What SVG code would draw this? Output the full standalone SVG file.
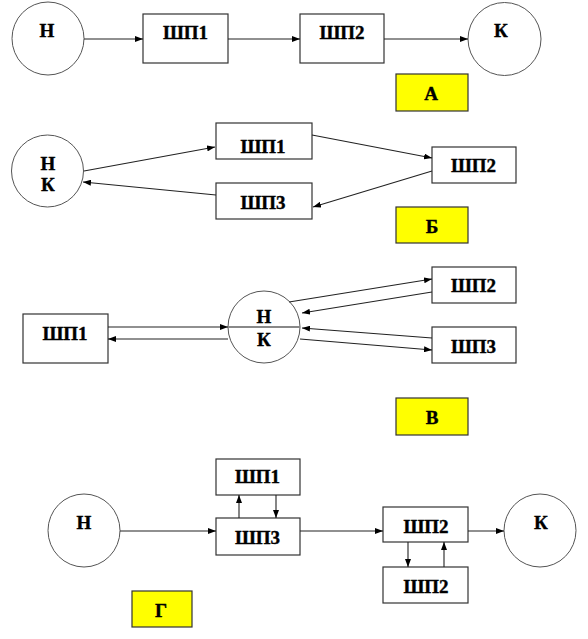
<svg xmlns="http://www.w3.org/2000/svg" width="588" height="639" viewBox="0 0 588 639">
<style>
.box{fill:#fff;stroke:#333;stroke-width:1.2}
.lbl{fill:#ff0;stroke:#333;stroke-width:1.2}
.circ{fill:#fff;stroke:#555;stroke-width:1}
.t{font-family:"Liberation Serif","Times New Roman",serif;font-weight:bold;font-size:19px;fill:#000;stroke:#000;stroke-width:0.4;text-anchor:middle}
.c line{stroke:#222;stroke-width:1.1;marker-end:url(#ah)}
</style>
<defs>
<marker id="ah" markerUnits="userSpaceOnUse" markerWidth="8" markerHeight="6" refX="8" refY="3" orient="auto">
<path d="M0,0 L8,3 L0,6 z" fill="#000"/>
</marker>
</defs>
<rect width="588" height="639" fill="#fff"/>

<!-- A -->
<g id="a-n"><ellipse class="circ" cx="48" cy="38.5" rx="36" ry="36.5"/><text class="t" x="47" y="36.5">Н</text></g>
<g id="a-sp1"><rect class="box" x="143" y="14" width="85" height="49"/><text class="t" x="185.5" y="39.3">ШП1</text></g>
<g id="a-sp2"><rect class="box" x="300" y="14" width="84" height="49"/><text class="t" x="342" y="39.3">ШП2</text></g>
<g id="a-k"><ellipse class="circ" cx="504.5" cy="39" rx="36.5" ry="36.5"/><text class="t" x="501" y="36.5">К</text></g>
<g id="a-label"><rect class="lbl" x="396" y="74" width="72" height="37"/><text class="t" x="431" y="99.5">А</text></g>

<!-- Б -->
<g id="b-nk"><ellipse class="circ" cx="47.5" cy="171" rx="36" ry="36"/><text class="t" x="48" y="169.5">Н</text><text class="t" x="48" y="190.5">К</text></g>
<g id="b-sp1"><rect class="box" x="216" y="123" width="96" height="36"/><text class="t" x="263" y="153">ШП1</text></g>
<g id="b-sp2"><rect class="box" x="432" y="147" width="84" height="36"/><text class="t" x="473.5" y="171.5">ШП2</text></g>
<g id="b-sp3"><rect class="box" x="216" y="183" width="96" height="36"/><text class="t" x="263" y="209.3">ШП3</text></g>
<g id="b-label"><rect class="lbl" x="396" y="207" width="72" height="36"/><text class="t" x="432" y="232.5">Б</text></g>

<!-- В -->
<g id="v-sp1"><rect class="box" x="23" y="314" width="85" height="49"/><text class="t" x="65" y="340">ШП1</text></g>
<g id="v-nk"><ellipse class="circ" cx="264" cy="327" rx="36" ry="36"/><line x1="228" y1="327" x2="300" y2="327" stroke="#888" stroke-width="2"/><text class="t" x="264" y="322.7">Н</text><text class="t" x="264" y="346">К</text></g>
<g id="v-sp2"><rect class="box" x="432" y="267" width="84" height="36"/><text class="t" x="473.5" y="291.5">ШП2</text></g>
<g id="v-sp3"><rect class="box" x="432" y="327" width="84" height="36"/><text class="t" x="473.5" y="352.5">ШП3</text></g>
<g id="v-label"><rect class="lbl" x="396" y="398" width="72" height="37"/><text class="t" x="432" y="424.3">В</text></g>

<!-- Г -->
<g id="g-n"><ellipse class="circ" cx="84" cy="530.5" rx="36" ry="36.5"/><text class="t" x="84" y="528.5">Н</text></g>
<g id="g-sp1"><rect class="box" x="216" y="459" width="84" height="36"/><text class="t" x="257.5" y="483">ШП1</text></g>
<g id="g-sp3"><rect class="box" x="216" y="518" width="84" height="37"/><text class="t" x="257.5" y="544">ШП3</text></g>
<g id="g-sp2a"><rect class="box" x="383" y="507" width="85" height="35"/><text class="t" x="426" y="532.5">ШП2</text></g>
<g id="g-sp2b"><rect class="box" x="383" y="567" width="85" height="36"/><text class="t" x="426" y="592.5">ШП2</text></g>
<g id="g-k"><ellipse class="circ" cx="540" cy="530.5" rx="36" ry="36.5"/><text class="t" x="541" y="528.5">К</text></g>
<g id="g-label"><rect class="lbl" x="132" y="591" width="60" height="36"/><text class="t" x="161" y="616.5">Г</text></g>

<g id="connectors" class="c">
<line x1="84" y1="39" x2="143" y2="39"/>
<line x1="228" y1="39" x2="300" y2="39"/>
<line x1="384" y1="39" x2="468" y2="39"/>

<line x1="84" y1="171" x2="215" y2="147"/>
<line x1="312" y1="135" x2="432" y2="158"/>
<line x1="432" y1="171" x2="313" y2="207"/>
<line x1="216" y1="195" x2="83" y2="182"/>

<line x1="108" y1="327" x2="228" y2="327"/>
<line x1="228" y1="339" x2="108" y2="339"/>
<line x1="289" y1="302" x2="432" y2="279"/>
<line x1="432" y1="292" x2="302" y2="313"/>
<line x1="432" y1="338" x2="302" y2="328"/>
<line x1="300" y1="339" x2="432" y2="350"/>

<line x1="120" y1="531" x2="216" y2="531"/>
<line x1="239" y1="518" x2="239" y2="495"/>
<line x1="276" y1="495" x2="276" y2="518"/>
<line x1="300" y1="531" x2="383" y2="531"/>
<line x1="468" y1="531" x2="504" y2="531"/>
<line x1="408" y1="542" x2="408" y2="567"/>
<line x1="444" y1="567" x2="444" y2="542"/>
</g>
</svg>
